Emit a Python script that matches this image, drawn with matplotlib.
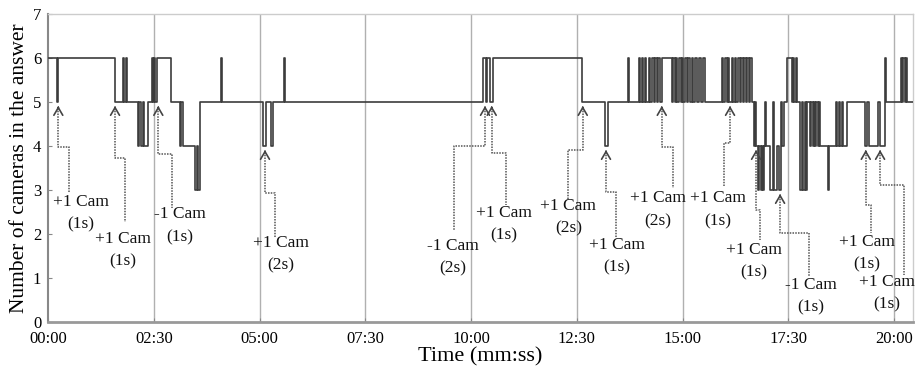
import matplotlib
matplotlib.use("Agg")
import matplotlib.pyplot as plt

# ---- step data: (time in seconds, number of cameras from that moment on) ----
change_times = [
    0, 12, 14, 94, 106, 107.4, 109.6, 111, 126.9, 128.7, 131.5, 133.7, 135.1,
    141.5, 146.7, 148.2, 150, 151.4, 154.3, 174.1, 186.9, 189, 191.2, 208.2,
    210.3, 212.4, 215.3, 245.1, 246.5, 305.1, 309.6, 315.3, 318.2, 334.5, 335.9,
    617.3, 621.1, 622.5, 626.1, 631.5, 756.9, 790, 794.3, 822.6, 824.1,
    837.5, 839.7, 841.8, 843.9, 846.8, 848.2, 851.7, 853.9, 856.7, 858.8,
    860.9, 863.1, 865.2, 868.1, 870.9, 884.7, 886.5, 888.6, 890.8, 892.2,
    894.3, 897.1, 899.3, 900.7, 903.5, 905.7, 907.8, 910.6, 913.5, 914.9,
    917.7, 919.8, 923.4, 925.5, 929.1, 931.9,
    955.6, 957.5, 959.6, 962.4, 963.8, 966, 969.5, 971.6, 973.8, 975.9,
    978.7, 980.9, 983, 985.1, 987.3, 989.4, 991.5, 994.3, 995.8, 998.2,
    1000.7, 1002.8, 1004.3, 1007.1, 1008.5, 1010.7, 1012.1, 1014.2, 1015.6,
    1017.1, 1018.5, 1024.1, 1028.4, 1029.8, 1034.1, 1036.9, 1039, 1041.2,
    1043.3, 1047.6, 1054.7, 1056.8, 1058.2, 1060.3, 1062.5, 1066.7, 1068.8,
    1071, 1073.1, 1075.2, 1076.6, 1080.9, 1082.3, 1084.5, 1085.9, 1088,
    1089.4, 1091.6, 1093, 1095.1, 1106.5, 1107.9, 1117.8, 1119.2, 1122.1,
    1123.5, 1126.3, 1127.7, 1132.7, 1159, 1161.8, 1163.9, 1177.4, 1179.5,
    1186.6, 1188.8, 1210, 1211.5, 1213.5, 1215, 1217.2, 1218.6, 1227,
]
camera_counts = [
    6, 5, 6, 5, 6, 5, 6, 5, 4, 5, 4, 5, 4,
    5, 6, 5, 6, 5, 6, 5, 4, 5, 4, 3,
    4, 3, 5, 6, 5, 4, 5, 4, 5, 6, 5,
    6, 5, 6, 5, 6, 5, 4, 5, 6, 5,
    6, 5, 6, 5, 6, 5, 6, 5, 6, 5,
    6, 5, 6, 5, 6, 5, 6, 5, 6, 5,
    6, 5, 6, 5, 6, 5, 6, 5, 6, 5,
    6, 5, 6, 5, 6, 5,
    6, 5, 6, 5, 6, 5, 6, 5, 6, 5,
    6, 5, 6, 5, 6, 5, 6, 5, 6, 5,
    4, 5, 4, 3, 4, 3, 4, 3, 4,
    5, 4, 3, 5, 3, 4, 3, 5, 4,
    5, 6, 5, 6, 5, 6, 5, 3, 5,
    3, 5, 3, 5, 4, 5, 4, 5, 4,
    5, 4, 5, 4, 3, 4, 5, 4, 5,
    4, 5, 4, 5, 4, 5, 4, 5, 4,
    6, 5, 6, 5, 6, 5, 6, 5, 5,
]

tick_seconds = [0, 150, 300, 450, 600, 750, 900, 1050, 1200]
tick_labels = ["00:00", "02:30", "05:00", "07:30", "10:00", "12:30", "15:00", "17:30", "20:00"]

# ---- annotations ----
ann_labels = ["+1 Cam\n(1s)", "+1 Cam\n(1s)", "-1 Cam\n(1s)", "+1 Cam\n(2s)",
              "-1 Cam\n(2s)", "+1 Cam\n(1s)", "+1 Cam\n(2s)", "+1 Cam\n(1s)",
              "+1 Cam\n(2s)", "+1 Cam\n(1s)", "+1 Cam\n(1s)", "-1 Cam\n(1s)",
              "+1 Cam\n(1s)", "+1 Cam\n(1s)"]
ann_time = [14.2, 94.7, 156.1, 307.5, 619.7, 629.2, 758.4, 791.4,
            870.5, 967.4, 1004.3, 1038.4, 1160, 1180.3]
ann_value = [5, 5, 5, 4, 5, 5, 5, 4, 5, 5, 4, 3, 4, 4]
# leader layout: elbow level, jog time, end level, text time, text level
lead_elbow = [3.98, 3.72, 3.82, 2.94, 4.0, 3.83, 3.91, 2.96, 3.98, 4.06, 2.55, 2.02, 2.66, 3.11]
lead_jog = [29.4, 108.8, 175.1, 321.7, 575.7, 649.5, 737.9, 805.6, 886.1, 958.9, 1010, 1079.5, 1167.1, 1214.3]
lead_end = [2.93, 2.28, 2.59, 1.91, 2.09, 2.66, 2.77, 1.91, 3.04, 3.08, 1.86, 1.03, 2.02, 1.07]
text_time = [46.0, 106, 186.9, 329.9, 574.3, 646.7, 737.9, 806.3, 864.5, 949.7, 1001.5, 1082.3, 1161.8, 1190]
text_level = [2.47, 1.64, 2.19, 1.54, 1.48, 2.22, 2.38, 1.49, 2.55, 2.55, 1.39, 0.58, 1.56, 0.65]

plt.rcParams['font.family'] = ['Liberation Serif', 'DejaVu Serif']

fig = plt.figure(figsize=(9.15, 3.68), dpi=100)
ax = fig.add_axes([48.3 / 915, 46 / 368, 864.7 / 915, 308 / 368])

ax.set_xlim(0, 1227)
ax.set_ylim(0, 7)

for t in tick_seconds[1:]:
    ax.axvline(t, color='#b0b0b0', lw=1.0, zorder=1)

ax.step(change_times, camera_counts, where='post', color='#3c3c3c', lw=1.2, zorder=3)

for i, lab in enumerate(ann_labels):
    tip_v = ann_value[i] - 0.09
    xs = [ann_time[i], ann_time[i], lead_jog[i], lead_jog[i]]
    ys = [tip_v - 0.05, lead_elbow[i], lead_elbow[i], lead_end[i]]
    ax.plot(xs, ys, color='#555555', lw=1.1, ls=(0, (1, 0.8)), zorder=2, clip_on=False)
    ax.annotate('', xy=(ann_time[i], tip_v), xytext=(ann_time[i], tip_v - 0.06),
                arrowprops=dict(arrowstyle='->,head_length=0.55,head_width=0.32',
                                color='#444444', lw=1.2, shrinkA=0, shrinkB=0),
                zorder=4)
    ax.text(text_time[i], text_level[i], lab, ha='center', va='center',
            fontsize=12.5, linespacing=1.55, color='#111111', zorder=5, clip_on=False)

ax.set_xticks(tick_seconds)
ax.set_xticklabels(tick_labels)
ax.set_yticks(range(0, 8))
ax.tick_params(axis='both', labelsize=12, direction='in', length=3, color='#888888')
ax.tick_params(axis='x', pad=6.5)
ax.tick_params(axis='y', pad=5)

ax.set_xlabel("Time (mm:ss)", fontsize=16, labelpad=0)
ax.set_ylabel("Number of cameras in the answer", fontsize=15.5, labelpad=3)

for side in ['top', 'right']:
    ax.spines[side].set_color('#cccccc')
    ax.spines[side].set_linewidth(1.0)
ax.spines['left'].set_color('#888888')
ax.spines['left'].set_linewidth(1.5)
ax.spines['bottom'].set_color('#999999')
ax.spines['bottom'].set_linewidth(2.0)

fig.savefig("out.png", dpi=100)
